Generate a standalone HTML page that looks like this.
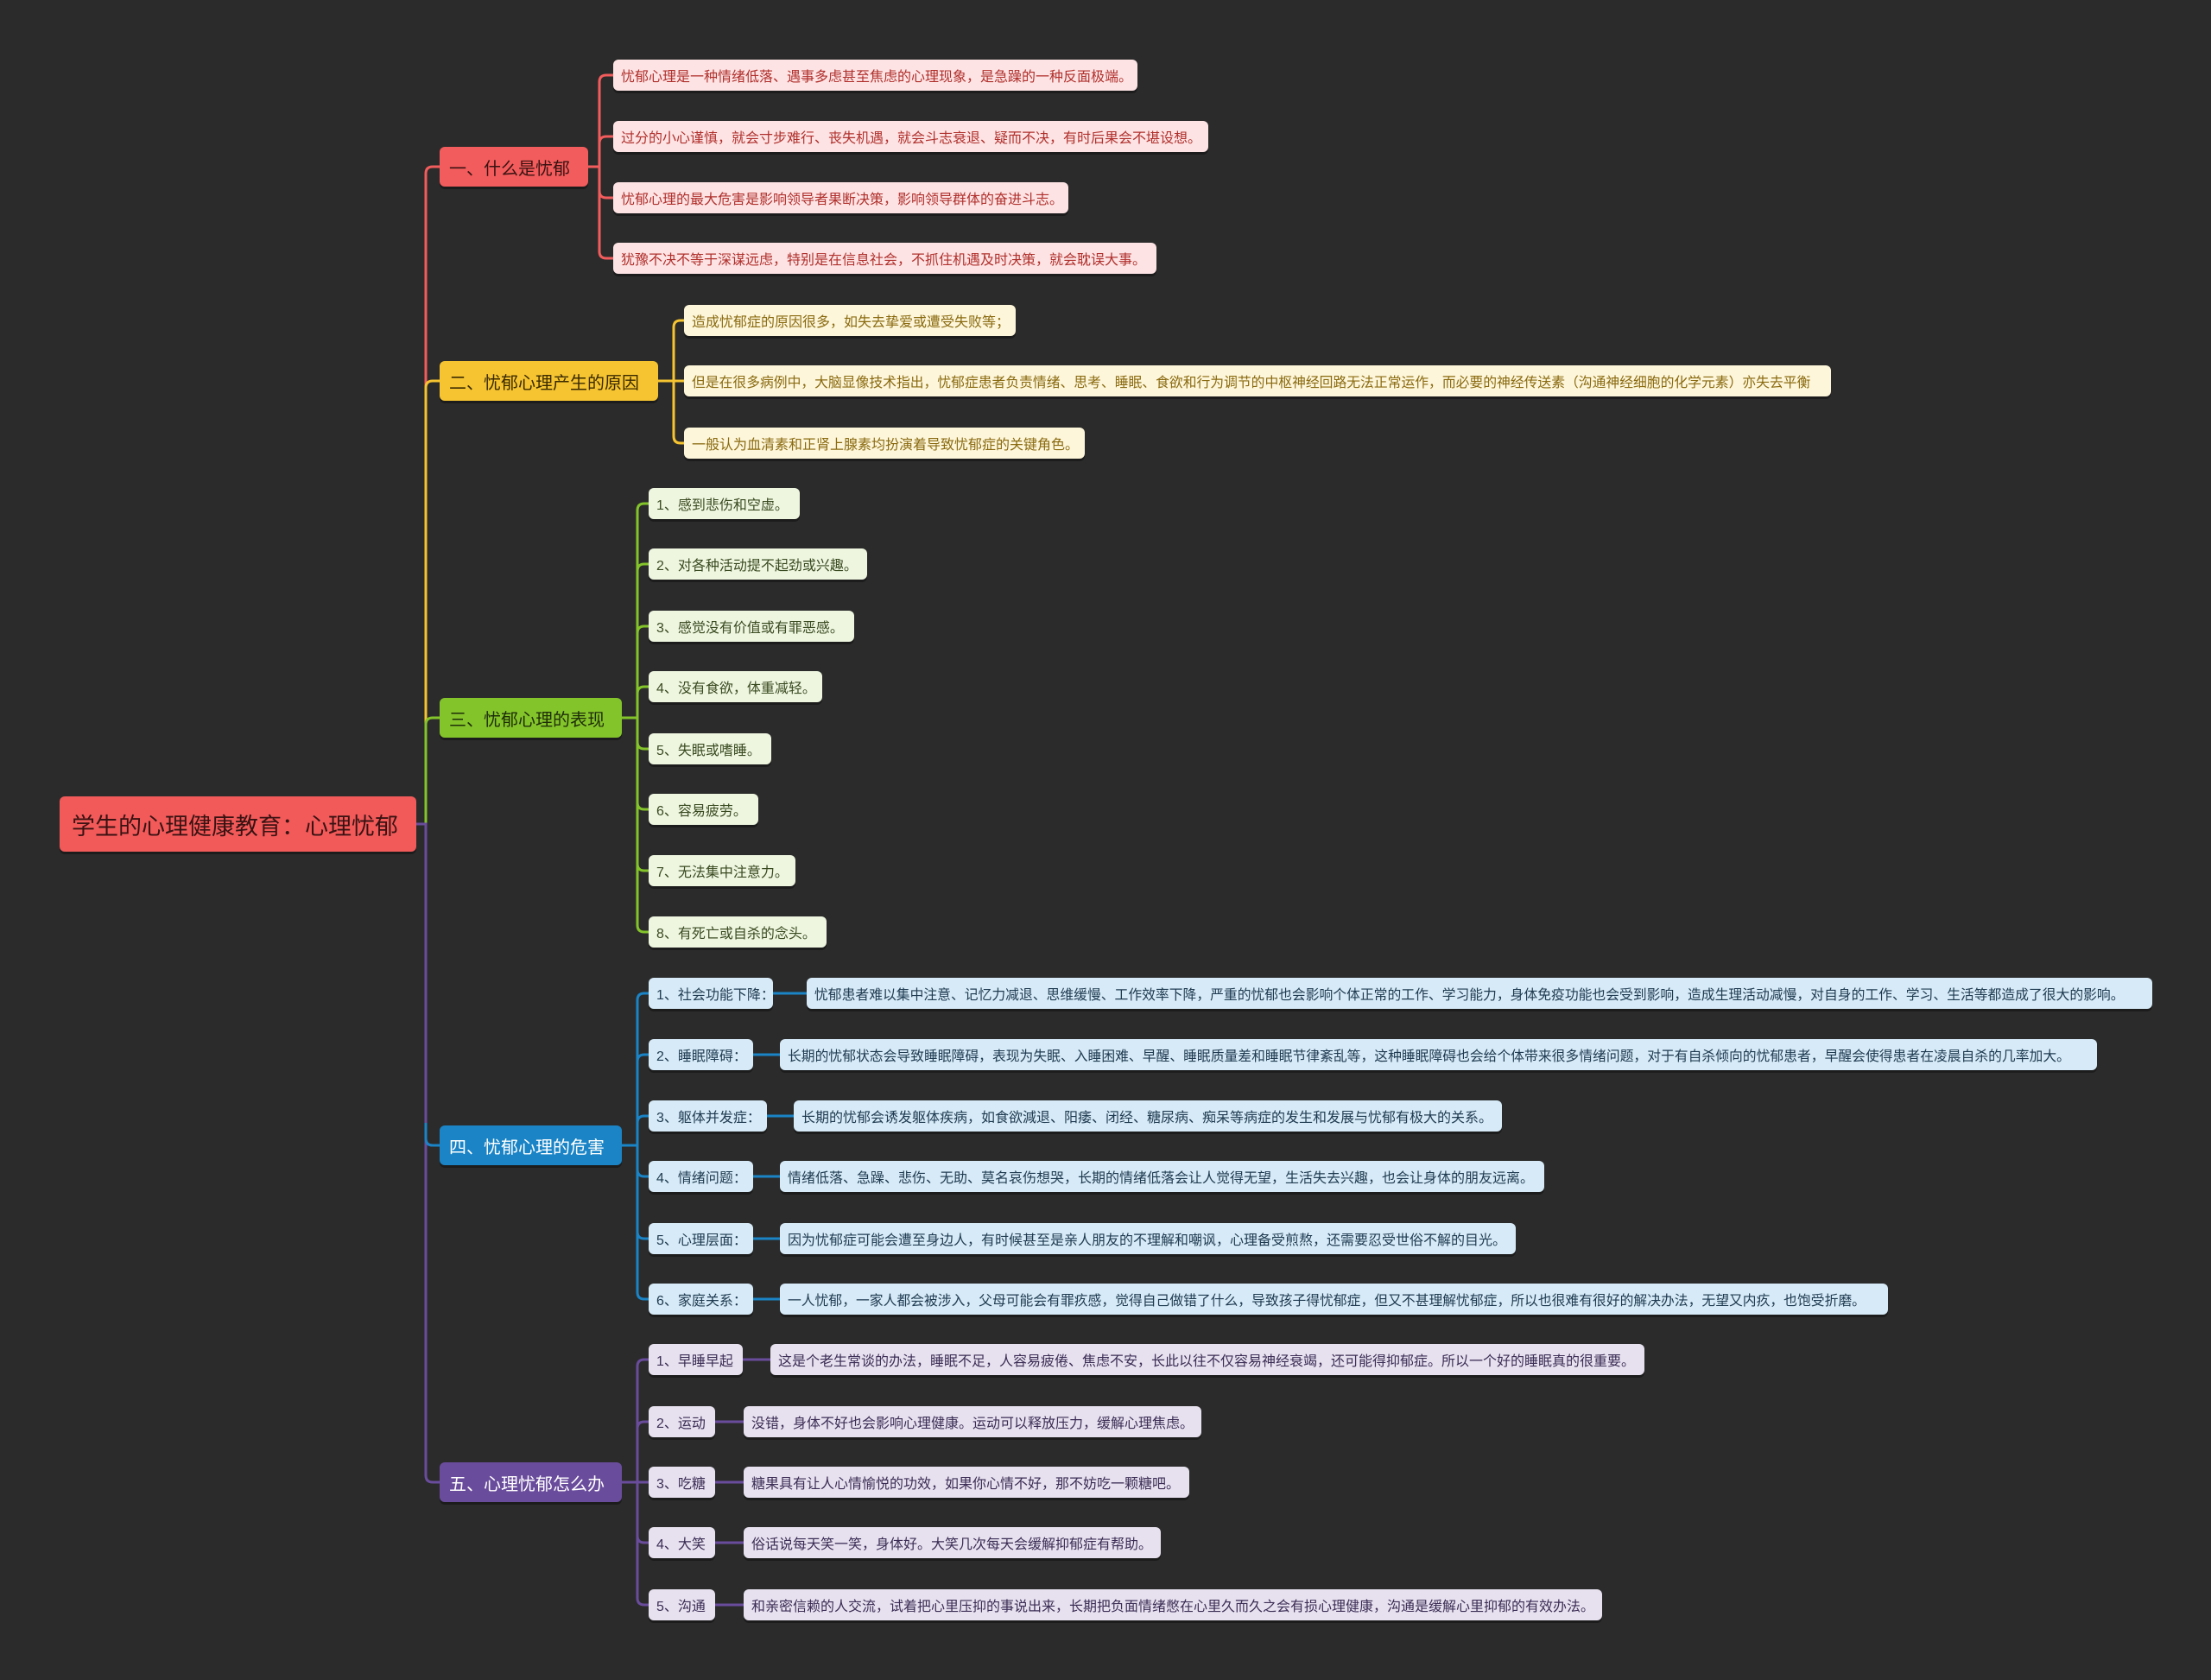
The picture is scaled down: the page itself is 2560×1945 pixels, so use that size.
<!DOCTYPE html>
<html><head><meta charset="utf-8">
<style>
body{margin:0;width:2560px;height:1945px;background:#2b2b2b;overflow:hidden;position:relative;font-family:"Liberation Sans","Noto Sans CJK SC",sans-serif;}
.n{position:absolute;box-sizing:border-box;display:flex;align-items:center;white-space:nowrap;overflow:hidden;border-radius:6px;box-shadow:0 3px 0 rgba(0,0,0,0.35);}
.l{height:36px;font-size:16px;padding-left:9px;}
.b{height:46px;font-size:20px;padding-left:11px;}
.p{background:#fde3e4;color:#b0302c;}
.y{background:#fdf6da;color:#8a6a10;}
.g{background:#eef6e0;color:#3a4a20;}
.u{background:#d6eaf7;color:#1f3a50;}
.v{background:#e7e1ef;color:#3b2d55;}
svg{position:absolute;left:0;top:0;}
</style></head><body>
<svg width="2560" height="1945" fill="none" stroke-width="3">
<path d="M482 954 H493 V201 Q493 193 501 193 H509" stroke="#f25c5c"/>
<path d="M482 954 H493 V449 Q493 441 501 441 H509" stroke="#f6c431"/>
<path d="M482 954 H493 V839 Q493 831 501 831 H509" stroke="#84c42b"/>
<path d="M482 954 H493 V1708 Q493 1716 501 1716 H509" stroke="#6a4c9c"/>
<path d="M482 954 H493 V1318 Q493 1326 501 1326 H509" stroke="#6a4c9c"/>
<path d="M493 1300 V1318 Q493 1326 501 1326 H509" stroke="#1a84c6"/>
<g stroke="#f25c5c"><path d="M681 193 H694"/><path d="M694 95 V291"/>
<path d="M694 95 Q694 87 702 87 H710"/><path d="M694 166 Q694 158 702 158 H710"/><path d="M694 221 Q694 229 702 229 H710"/><path d="M694 291 Q694 299 702 299 H710"/></g>
<g stroke="#f6c431"><path d="M762 441 H780"/><path d="M780 379 V505"/>
<path d="M780 379 Q780 371 788 371 H792"/><path d="M780 441 H792"/><path d="M780 505 Q780 513 788 513 H792"/></g>
<g stroke="#84c42b"><path d="M720 831 H738"/><path d="M738 591 V1071"/>
<path d="M738 591 Q738 583 746 583 H751"/><path d="M738 661 Q738 653 746 653 H751"/><path d="M738 733 Q738 725 746 725 H751"/><path d="M738 803 Q738 795 746 795 H751"/><path d="M738 859 Q738 867 746 867 H751"/><path d="M738 929 Q738 937 746 937 H751"/><path d="M738 1000 Q738 1008 746 1008 H751"/><path d="M738 1071 Q738 1079 746 1079 H751"/></g>
<g stroke="#1a84c6"><path d="M720 1326 H738"/><path d="M738 1158 V1496"/>
<path d="M738 1158 Q738 1150 746 1150 H751"/><path d="M738 1229 Q738 1221 746 1221 H751"/><path d="M738 1300 Q738 1292 746 1292 H751"/><path d="M738 1354 Q738 1362 746 1362 H751"/><path d="M738 1426 Q738 1434 746 1434 H751"/><path d="M738 1496 Q738 1504 746 1504 H751"/>
<path d="M895 1150 H934"/><path d="M872 1221 H903"/><path d="M888 1292 H919"/><path d="M872 1362 H903"/><path d="M872 1434 H903"/><path d="M872 1504 H903"/></g>
<g stroke="#6a4c9c"><path d="M720 1716 H738"/><path d="M738 1582 V1850"/>
<path d="M738 1582 Q738 1574 746 1574 H751"/><path d="M738 1654 Q738 1646 746 1646 H751"/><path d="M738 1716 H751"/><path d="M738 1778 Q738 1786 746 1786 H751"/><path d="M738 1850 Q738 1858 746 1858 H751"/>
<path d="M860 1574 H892"/><path d="M828 1646 H861"/><path d="M828 1716 H861"/><path d="M828 1786 H861"/><path d="M828 1858 H861"/></g>
</svg>

<div class="n" style="left:69px;top:922px;width:413px;height:64px;background:#f25a5a;color:#3a1212;font-size:27px;padding-left:14px;">学生的心理健康教育：心理忧郁</div>

<div class="n b" style="left:509px;top:170px;width:172px;background:#f25c5c;color:#3a1212;">一、什么是忧郁</div>
<div class="n l p" style="left:710px;top:69px;width:607px;">忧郁心理是一种情绪低落、遇事多虑甚至焦虑的心理现象，是急躁的一种反面极端。</div>
<div class="n l p" style="left:710px;top:140px;width:689px;">过分的小心谨慎，就会寸步难行、丧失机遇，就会斗志衰退、疑而不决，有时后果会不堪设想。</div>
<div class="n l p" style="left:710px;top:211px;width:527px;">忧郁心理的最大危害是影响领导者果断决策，影响领导群体的奋进斗志。</div>
<div class="n l p" style="left:710px;top:281px;width:629px;">犹豫不决不等于深谋远虑，特别是在信息社会，不抓住机遇及时决策，就会耽误大事。</div>

<div class="n b" style="left:509px;top:418px;width:253px;background:#f6c431;color:#3a2a00;">二、忧郁心理产生的原因</div>
<div class="n l y" style="left:792px;top:353px;width:384px;">造成忧郁症的原因很多，如失去挚爱或遭受失败等；</div>
<div class="n l y" style="left:792px;top:423px;width:1328px;font-size:15.8px;">但是在很多病例中，大脑显像技术指出，忧郁症患者负责情绪、思考、睡眠、食欲和行为调节的中枢神经回路无法正常运作，而必要的神经传送素（沟通神经细胞的化学元素）亦失去平衡</div>
<div class="n l y" style="left:792px;top:495px;width:464px;">一般认为血清素和正肾上腺素均扮演着导致忧郁症的关键角色。</div>

<div class="n b" style="left:509px;top:808px;width:211px;background:#84c42b;color:#1e2e08;">三、忧郁心理的表现</div>
<div class="n l g" style="left:751px;top:565px;width:175px;">1、感到悲伤和空虚。</div>
<div class="n l g" style="left:751px;top:635px;width:253px;">2、对各种活动提不起劲或兴趣。</div>
<div class="n l g" style="left:751px;top:707px;width:238px;">3、感觉没有价值或有罪恶感。</div>
<div class="n l g" style="left:751px;top:777px;width:201px;">4、没有食欲，体重减轻。</div>
<div class="n l g" style="left:751px;top:849px;width:142px;">5、失眠或嗜睡。</div>
<div class="n l g" style="left:751px;top:919px;width:127px;">6、容易疲劳。</div>
<div class="n l g" style="left:751px;top:990px;width:170px;">7、无法集中注意力。</div>
<div class="n l g" style="left:751px;top:1061px;width:206px;">8、有死亡或自杀的念头。</div>

<div class="n b" style="left:509px;top:1303px;width:211px;background:#1a84c6;color:#fff;">四、忧郁心理的危害</div>
<div class="n l u" style="left:751px;top:1132px;width:144px;">1、社会功能下降：</div>
<div class="n l u" style="left:751px;top:1203px;width:121px;">2、睡眠障碍：</div>
<div class="n l u" style="left:751px;top:1274px;width:137px;">3、躯体并发症：</div>
<div class="n l u" style="left:751px;top:1344px;width:121px;">4、情绪问题：</div>
<div class="n l u" style="left:751px;top:1416px;width:121px;">5、心理层面：</div>
<div class="n l u" style="left:751px;top:1486px;width:121px;">6、家庭关系：</div>
<div class="n l u" style="left:934px;top:1132px;width:1558px;font-size:15.8px;">忧郁患者难以集中注意、记忆力减退、思维缓慢、工作效率下降，严重的忧郁也会影响个体正常的工作、学习能力，身体免疫功能也会受到影响，造成生理活动减慢，对自身的工作、学习、生活等都造成了很大的影响。</div>
<div class="n l u" style="left:903px;top:1203px;width:1525px;font-size:15.8px;">长期的忧郁状态会导致睡眠障碍，表现为失眠、入睡困难、早醒、睡眠质量差和睡眠节律紊乱等，这种睡眠障碍也会给个体带来很多情绪问题，对于有自杀倾向的忧郁患者，早醒会使得患者在凌晨自杀的几率加大。</div>
<div class="n l u" style="left:919px;top:1274px;width:820px;">长期的忧郁会诱发躯体疾病，如食欲減退、阳痿、闭经、糖尿病、痴呆等病症的发生和发展与忧郁有极大的关系。</div>
<div class="n l u" style="left:903px;top:1344px;width:885px;">情绪低落、急躁、悲伤、无助、莫名哀伤想哭，长期的情绪低落会让人觉得无望，生活失去兴趣，也会让身体的朋友远离。</div>
<div class="n l u" style="left:903px;top:1416px;width:852px;">因为忧郁症可能会遭至身边人，有时候甚至是亲人朋友的不理解和嘲讽，心理备受煎熬，还需要忍受世俗不解的目光。</div>
<div class="n l u" style="left:903px;top:1486px;width:1283px;font-size:15.8px;">一人忧郁，一家人都会被涉入，父母可能会有罪疚感，觉得自己做错了什么，导致孩子得忧郁症，但又不甚理解忧郁症，所以也很难有很好的解决办法，无望又内疚，也饱受折磨。</div>

<div class="n b" style="left:509px;top:1693px;width:211px;background:#6a4c9c;color:#fff;">五、心理忧郁怎么办</div>
<div class="n l v" style="left:751px;top:1556px;width:109px;">1、早睡早起</div>
<div class="n l v" style="left:751px;top:1628px;width:77px;">2、运动</div>
<div class="n l v" style="left:751px;top:1698px;width:77px;">3、吃糖</div>
<div class="n l v" style="left:751px;top:1768px;width:77px;">4、大笑</div>
<div class="n l v" style="left:751px;top:1840px;width:77px;">5、沟通</div>
<div class="n l v" style="left:892px;top:1556px;width:1012px;">这是个老生常谈的办法，睡眠不足，人容易疲倦、焦虑不安，长此以往不仅容易神经衰竭，还可能得抑郁症。所以一个好的睡眠真的很重要。</div>
<div class="n l v" style="left:861px;top:1628px;width:530px;">没错，身体不好也会影响心理健康。运动可以释放压力，缓解心理焦虑。</div>
<div class="n l v" style="left:861px;top:1698px;width:516px;">糖果具有让人心情愉悦的功效，如果你心情不好，那不妨吃一颗糖吧。</div>
<div class="n l v" style="left:861px;top:1768px;width:483px;">俗话说每天笑一笑，身体好。大笑几次每天会缓解抑郁症有帮助。</div>
<div class="n l v" style="left:861px;top:1840px;width:994px;">和亲密信赖的人交流，试着把心里压抑的事说出来，长期把负面情绪憋在心里久而久之会有损心理健康，沟通是缓解心里抑郁的有效办法。</div>
</body></html>
